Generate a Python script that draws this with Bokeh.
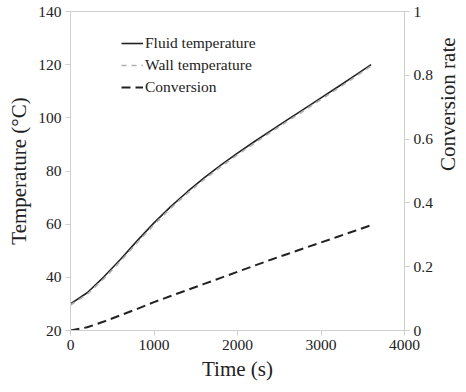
import math
from bokeh.plotting import figure
from bokeh.models import Range1d, LinearAxis, Legend, LegendItem, FixedTicker
from bokeh.embed import file_html
from bokeh.resources import INLINE

time_s = [0, 200, 400, 600, 800, 1000, 1200, 1400, 1600, 1800, 2000, 2200,
          2400, 2600, 2800, 3000, 3200, 3400, 3600]
fluid_temp = [30, 34.2, 40.2, 46.8, 53.8, 60.5, 66.6, 72.2, 77.4, 82.2, 86.7, 91.0,
              95.2, 99.3, 103.4, 107.5, 111.6, 115.8, 120]
wall_temp = [29.6, 33.6, 39.5, 46.1, 53.1, 59.8, 66.0, 71.6, 76.8, 81.6, 86.1, 90.4,
             94.6, 98.7, 102.8, 106.9, 111.0, 115.2, 119.5]
conversion = [0, 0.01, 0.028, 0.048, 0.068, 0.089, 0.108, 0.127, 0.146, 0.165, 0.184, 0.203,
              0.222, 0.24, 0.258, 0.276, 0.294, 0.312, 0.33]

x_ticks = [0, 1000, 2000, 3000, 4000]
y_ticks = [20, 40, 60, 80, 100, 120, 140]
conv_ticks = [0, 0.2, 0.4, 0.6, 0.8, 1]
conv_labels = {0: "0", 0.2: "0.2", 0.4: "0.4", 0.6: "0.6", 0.8: "0.8", 1: "1"}

FONT = "Liberation Serif"
GRID = "#cfcfcf"
FW, FH = 334, 319

p = figure(frame_width=FW, frame_height=FH, output_backend="svg", toolbar_location=None,
           x_range=Range1d(0, 4000), y_range=Range1d(20, 140),
           min_border_left=70, min_border_top=11, min_border_right=10, min_border_bottom=6)
p.extra_y_ranges = {"conv": Range1d(0, 1)}
p.grid.visible = False
p.outline_line_color = GRID
p.background_fill_color = "white"

p.line(time_s, fluid_temp, line_color="#222222", line_width=1.6)
p.line(time_s, wall_temp, line_color="#b0b0b0", line_width=1.6, line_dash="5 5")
p.line(time_s, conversion, y_range_name="conv", line_color="#222222", line_width=2,
       line_dash="9 5")

ax_r = LinearAxis(y_range_name="conv", axis_label="Conversion rate")
p.add_layout(ax_r, "right")

p.xaxis.axis_label = "Time (s)"
p.yaxis[0].axis_label = "Temperature (°C)"
p.xaxis.ticker = FixedTicker(ticks=x_ticks)
p.yaxis[0].ticker = FixedTicker(ticks=y_ticks)
ax_r.ticker = FixedTicker(ticks=conv_ticks)
ax_r.major_label_overrides = conv_labels

for ax in p.axis:
    ax.axis_line_color = GRID
    ax.major_tick_line_color = GRID
    ax.major_tick_out = 5
    ax.major_tick_in = 0
    ax.minor_tick_line_color = None
    ax.major_label_text_font = FONT
    ax.major_label_text_font_size = "15.5px"
    ax.major_label_text_color = "#222222"
    ax.axis_label_text_font = FONT
    ax.axis_label_text_font_size = "21px"
    ax.axis_label_text_font_style = "normal"
    ax.axis_label_text_color = "#222222"
    ax.axis_label_standoff = 4
    ax.major_label_standoff = 4

ax_r.axis_label_orientation = math.pi / 2
ax_r.axis_label_standoff = 12

r1, r2, r3 = p.renderers
legend = Legend(items=[LegendItem(label="Fluid temperature", renderers=[r1]),
                       LegendItem(label="Wall temperature", renderers=[r2]),
                       LegendItem(label="Conversion", renderers=[r3])],
                location=(51, 233))
legend.margin = 0
legend.padding = 0
legend.spacing = 2
legend.glyph_width = 22
legend.label_standoff = 2
legend.label_text_font = FONT
legend.label_text_font_style = "normal"
legend.label_text_font_size = "15.5px"
legend.label_text_color = "#222222"
legend.border_line_color = None
legend.background_fill_alpha = 0
p.add_layout(legend)

open("out.html", "w").write(file_html(p, INLINE))
